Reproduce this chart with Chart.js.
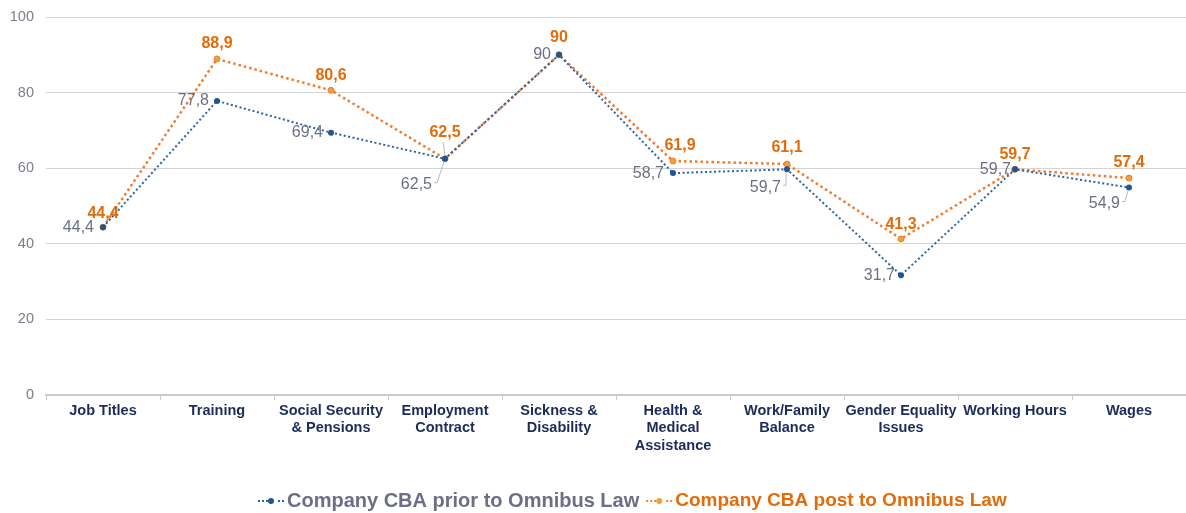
<!DOCTYPE html>
<html>
<head>
<meta charset="utf-8">
<script src="https://cdn.jsdelivr.net/npm/chart.js@4.4.0/dist/chart.umd.min.js"></script>
<style>
  html, body { margin: 0; padding: 0; background: #fff; }
  #wrap { width: 1186px; height: 513px; position: relative; }
</style>
</head>
<body>
<div id="wrap"><canvas id="chart"></canvas></div>
<script>
// Данные
const categories = [
  ['Job Titles'], ['Training'], ['Social Security', '& Pensions'], ['Employment', 'Contract'],
  ['Sickness &', 'Disability'], ['Health &', 'Medical', 'Assistance'], ['Work/Family', 'Balance'],
  ['Gender Equality', 'Issues'], ['Working Hours'], ['Wages']
];
const priorValues = [44.4, 77.8, 69.4, 62.5, 90, 58.7, 59.7, 31.7, 59.7, 54.9];
const postValues = [44.4, 88.9, 80.6, 62.5, 90, 61.9, 61.1, 41.3, 59.7, 57.4];
const yTicks = [0, 20, 40, 60, 80, 100];
const seriesNames = ['Company CBA prior to Omnibus Law', 'Company CBA post to Omnibus Law'];

const BLUE = '#2a64a4';
const BLUE_PT = '#1f5594';
const ORANGE = '#ed7d31';
const ORANGE_PT = '#f2a232';
const BLUE_LABEL = '#6b6f86';
const ORANGE_LABEL = '#e36c0a';
const FONT = '"Liberation Sans", Arial, sans-serif';

// Смещения подписей: [dx, dy, align, leader]
const priorLabelPos = [
  [-9, 0, 'right'], [-8, 0, 'right'], [-8, 0, 'right'], [-13, 26, 'right', true],
  [-8, 0, 'right'], [-9, 0, 'right'], [-6, 18, 'right', true], [-6, 0, 'right'],
  [-4, 0, 'right'], [-9, 16, 'right', true]
];
const postLabelPos = [
  [0, -14, 'center'], [0, -15, 'center'], [0, -15, 'center'], [0, -26, 'center', true],
  [0, -17, 'center'], [7, -15, 'center'], [0, -16, 'center'], [0, -14, 'center'],
  [0, -15, 'center'], [0, -15, 'center']
];

const fmt = v => String(v).replace('.', ',');

const labelPlugin = {
  id: 'pointLabels',
  afterDatasetsDraw(chart) {
    const ctx = chart.ctx;
    const cfg = [
      { pos: priorLabelPos, color: BLUE_LABEL, font: '16px ' + FONT },
      { pos: postLabelPos, color: ORANGE_LABEL, font: 'bold 16px ' + FONT }
    ];
    chart.data.datasets.forEach((ds, di) => {
      const meta = chart.getDatasetMeta(di);
      const c = cfg[di];
      meta.data.forEach((pt, i) => {
        const [dx, dy, align, leader] = c.pos[i];
        const tx = pt.x + dx, ty = pt.y + dy;
        ctx.save();
        ctx.font = c.font;
        ctx.fillStyle = c.color;
        ctx.textAlign = align;
        ctx.textBaseline = 'middle';
        ctx.fillText(fmt(ds.data[i]), tx, ty);
        if (leader) {
          ctx.strokeStyle = '#b8bac4';
          ctx.lineWidth = 1;
          ctx.beginPath();
          if (di === 0) {
            ctx.moveTo(tx + 2, ty - 2);
            ctx.lineTo(tx + 5, ty - 2);
            ctx.lineTo(pt.x - 1, pt.y + 3);
          } else {
            ctx.moveTo(tx - 2, ty + 9);
            ctx.lineTo(pt.x, pt.y - 3);
          }
          ctx.stroke();
        }
        ctx.restore();
      });
    });
  }
};

// Легенда внизу: пунктир с точкой + подпись
const legendPlugin = {
  id: 'bottomLegend',
  afterDraw(chart) {
    const ctx = chart.ctx;
    const items = [
      { text: seriesNames[0], line: BLUE, dot: BLUE_PT, color: BLUE_LABEL, size: 20 },
      { text: seriesNames[1], line: ORANGE, dot: ORANGE_PT, color: ORANGE_LABEL, size: 19 }
    ];
    const y = 501;
    let x = 258;
    ctx.save();
    ctx.textBaseline = 'middle';
    items.forEach(it => {
      ctx.fillStyle = it.line;
      for (let k = 0; k < 26; k += 4) {
        if (k > 8 && k < 17) continue;
        ctx.fillRect(x + k, y - 1, 2, 2);
      }
      ctx.beginPath();
      ctx.arc(x + 13, y, 3, 0, Math.PI * 2);
      ctx.fillStyle = it.dot;
      ctx.fill();
      x += 29;
      ctx.font = 'bold ' + it.size + 'px ' + FONT;
      ctx.fillStyle = it.color;
      ctx.fillText(it.text, x, y);
      x += ctx.measureText(it.text).width + 7;
    });
    ctx.restore();
  }
};

const ctx = document.getElementById('chart').getContext('2d');
const chart = new Chart(ctx, {
  type: 'line',
  data: {
    labels: categories,
    datasets: [
      {
        label: seriesNames[0],
        data: priorValues,
        borderColor: BLUE,
        borderWidth: 2,
        borderDash: [2, 2.5],
        pointRadius: 3,
        pointBackgroundColor: BLUE_PT,
        pointBorderColor: BLUE_PT,
        pointBorderWidth: 0,
        tension: 0,
        fill: false
      },
      {
        label: seriesNames[1],
        data: postValues,
        borderColor: ORANGE,
        borderWidth: 2.5,
        borderDash: [2.5, 3],
        pointRadius: 3,
        pointBackgroundColor: ORANGE_PT,
        pointBorderColor: ORANGE,
        pointBorderWidth: 1,
        tension: 0,
        fill: false
      }
    ]
  },
  options: {
    responsive: true,
    maintainAspectRatio: false,
    animation: false,
    layout: { autoPadding: false, padding: { top: 0, right: 0, bottom: 50, left: 0 } },
    plugins: {
      tooltip: { enabled: false },
      legend: { display: false }
    },
    scales: {
      x: {
        offset: true,
        afterFit(scale) { scale.height = 68; },
        grid: { drawOnChartArea: false, drawTicks: true, tickLength: 5, color: '#c8c8c8', offset: true },
        border: { color: '#c8c8c8', width: 1.5 },
        ticks: {
          autoSkip: false,
          maxRotation: 0,
          padding: 2,
          color: '#1c2b5a',
          font: { family: FONT, size: 14.5, weight: 'bold', lineHeight: 1.2 }
        }
      },
      y: {
        min: 0,
        max: 100,
        afterBuildTicks(scale) { scale.ticks = yTicks.map(v => ({ value: v })); },
        afterFit(scale) { scale.width = 46; scale.paddingTop = 17; },
        grid: { drawTicks: false, color: '#d4d4d8', lineWidth: 1 },
        border: { display: false },
        ticks: {
          padding: 12,
          color: '#7a7e90',
          font: { family: FONT, size: 14.5 }
        }
      }
    }
  },
  plugins: [labelPlugin, legendPlugin]
});
</script>
</body>
</html>
